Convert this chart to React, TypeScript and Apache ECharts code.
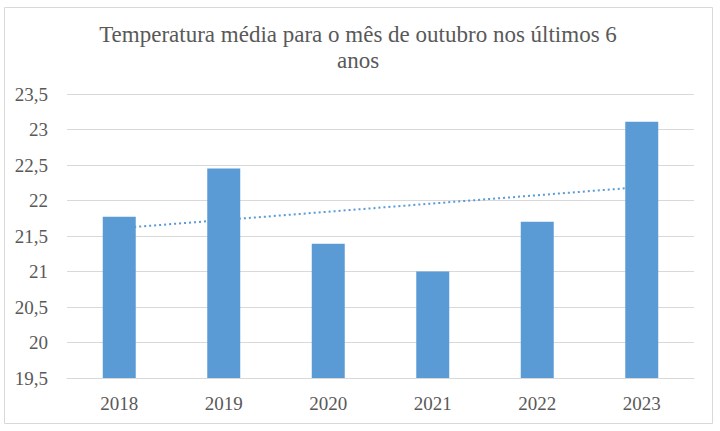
import { useEffect, useRef } from "react";
import * as echarts from "echarts";

const years = ["2018", "2019", "2020", "2021", "2022", "2023"];
const temperatures = [21.77, 22.45, 21.39, 21.0, 21.7, 23.11];
// linear trend (ends only)
const trend = [21.61, null, null, null, null, 22.19];

const TITLE = "Temperatura média para o mês de outubro nos últimos 6\nanos";
const FONT = "Liberation Serif";
const BLUE = "#5B9BD5";
const GREY = "#595959";

export default function App() {
  const ref = useRef<HTMLDivElement>(null);

  useEffect(() => {
    document.body.style.margin = "0";
    if (!ref.current) return;
    const chart = echarts.init(ref.current, null, { renderer: "svg" });

    chart.setOption({
      animation: false,
      backgroundColor: "#fff",
      textStyle: { fontFamily: FONT },
      graphic: [
        {
          type: "rect",
          shape: { x: 4.5, y: 7.5, width: 708, height: 416 },
          style: { fill: "none", stroke: "#d9d9d9", lineWidth: 1 },
          silent: true,
        },
        {
          type: "text",
          x: 358,
          y: 21,
          style: {
            text: TITLE,
            fontFamily: FONT,
            fontSize: 23,
            lineHeight: 26,
            fill: GREY,
            align: "center",
          },
          silent: true,
        },
      ],
      grid: { left: 67, right: 26, top: 94, bottom: 53 },
      xAxis: {
        type: "category",
        data: years,
        axisLine: { lineStyle: { color: "#d9d9d9" } },
        axisTick: { show: false },
        axisLabel: {
          fontFamily: FONT,
          fontSize: 19,
          color: GREY,
          margin: 16,
        },
      },
      yAxis: {
        type: "value",
        min: 19.5,
        max: 23.5,
        interval: 0.5,
        axisLine: { show: false },
        axisTick: { show: false },
        splitLine: { lineStyle: { color: "#d9d9d9" } },
        axisLabel: {
          fontFamily: FONT,
          fontSize: 19,
          color: GREY,
          margin: 19,
          formatter: (v: number) => String(v).replace(".", ","),
        },
      },
      series: [
        {
          type: "line",
          data: trend,
          connectNulls: true,
          symbol: "none",
          z: 1,
          lineStyle: { color: BLUE, width: 2, type: [2, 3] },
        },
        {
          type: "bar",
          data: temperatures,
          barWidth: 33,
          z: 2,
          itemStyle: { color: BLUE },
        },
      ],
    });

    return () => chart.dispose();
  }, []);

  return <div ref={ref} style={{ width: 720, height: 431 }} />;
}
